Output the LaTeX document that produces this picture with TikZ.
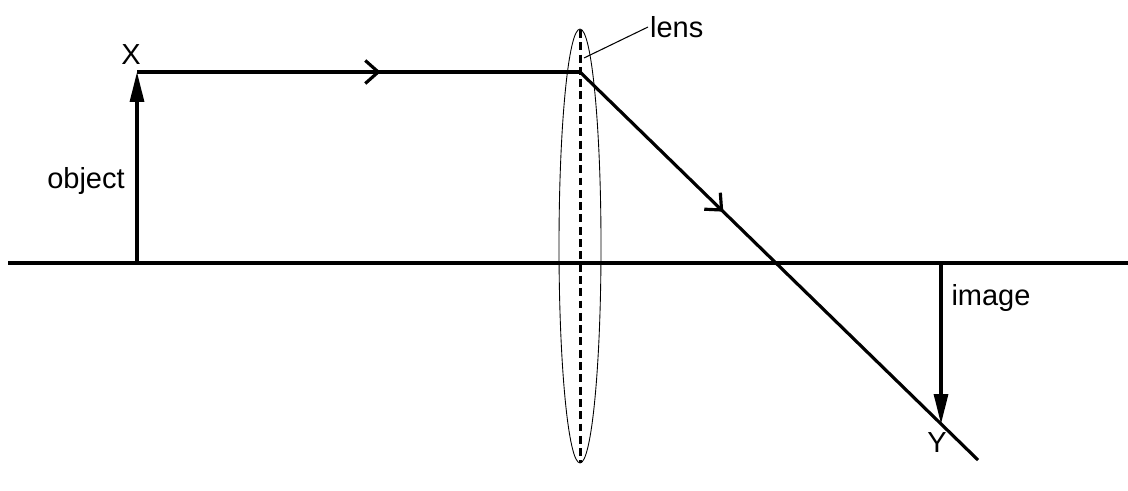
\documentclass[tikz,border=0pt]{standalone}
\usepackage{fontspec}
\setmainfont{Liberation Sans}
\usetikzlibrary{arrows.meta,decorations.markings}

\begin{document}
\begin{tikzpicture}[
    x=0.02cm, y=-0.02cm,
    font=\fontsize{16.5}{19}\selectfont,
    axis/.style={line width=1.8pt},
    ray/.style={line width=1.8pt},
    solidarrow/.style={line width=1.8pt, -{Triangle[length=0.6cm, width=0.28cm]}},
    midarrow/.style={postaction={decorate}, decoration={markings,
        mark=at position #1 with {\arrow{Straight Barb[length=0.26cm, width=0.46cm, line width=1.8pt]}}}},
    lensbody/.style={line width=0.5pt},
    lensline/.style={line width=1.7pt, dash pattern=on 4.5pt off 2.5pt},
    label/.style={inner sep=1pt}
]
    \useasboundingbox (0,0) rectangle (1128,490);

    % axis and points
    \coordinate (axisL) at (8,263);
    \coordinate (axisR) at (1128,263);
    \coordinate (objbase) at (137,263);
    \coordinate (Xtip) at (137,72);
    \coordinate (lensP) at (580,72);
    \coordinate (rayend) at (978,460);
    \coordinate (imgbase) at (941,263);
    \coordinate (Ytip) at (941,424);
    \coordinate (lenstop) at (580,30);
    \coordinate (lensbot) at (580,463);
    \coordinate (leader) at (584,58);

    \draw[axis] (axisL) -- (axisR);

    % lens
    \draw[lensbody] (580,246) ellipse [x radius=21, y radius=217];
    \draw[lensline] (lenstop) -- (lensbot);

    % object and image
    \draw[solidarrow] (objbase) -- (Xtip);
    \draw[solidarrow] (imgbase) -- (Ytip);

    % ray
    \draw[ray, midarrow=0.55] (Xtip) -- (lensP);
    \draw[ray, midarrow=0.36] (lensP) -- (rayend);

    % labels
    \node[label] (X) at (131,55) {X};
    \node[label] (Y) at (937,443) {Y};
    \node[label] (object) at (86,181) {object};
    \node[label] (image) at (991,298) {image};
    \node[label, anchor=west] (lens) at (648,27) {lens};
    \draw[line width=0.6pt] (leader) -- (lens.west);
\end{tikzpicture}
\end{document}
